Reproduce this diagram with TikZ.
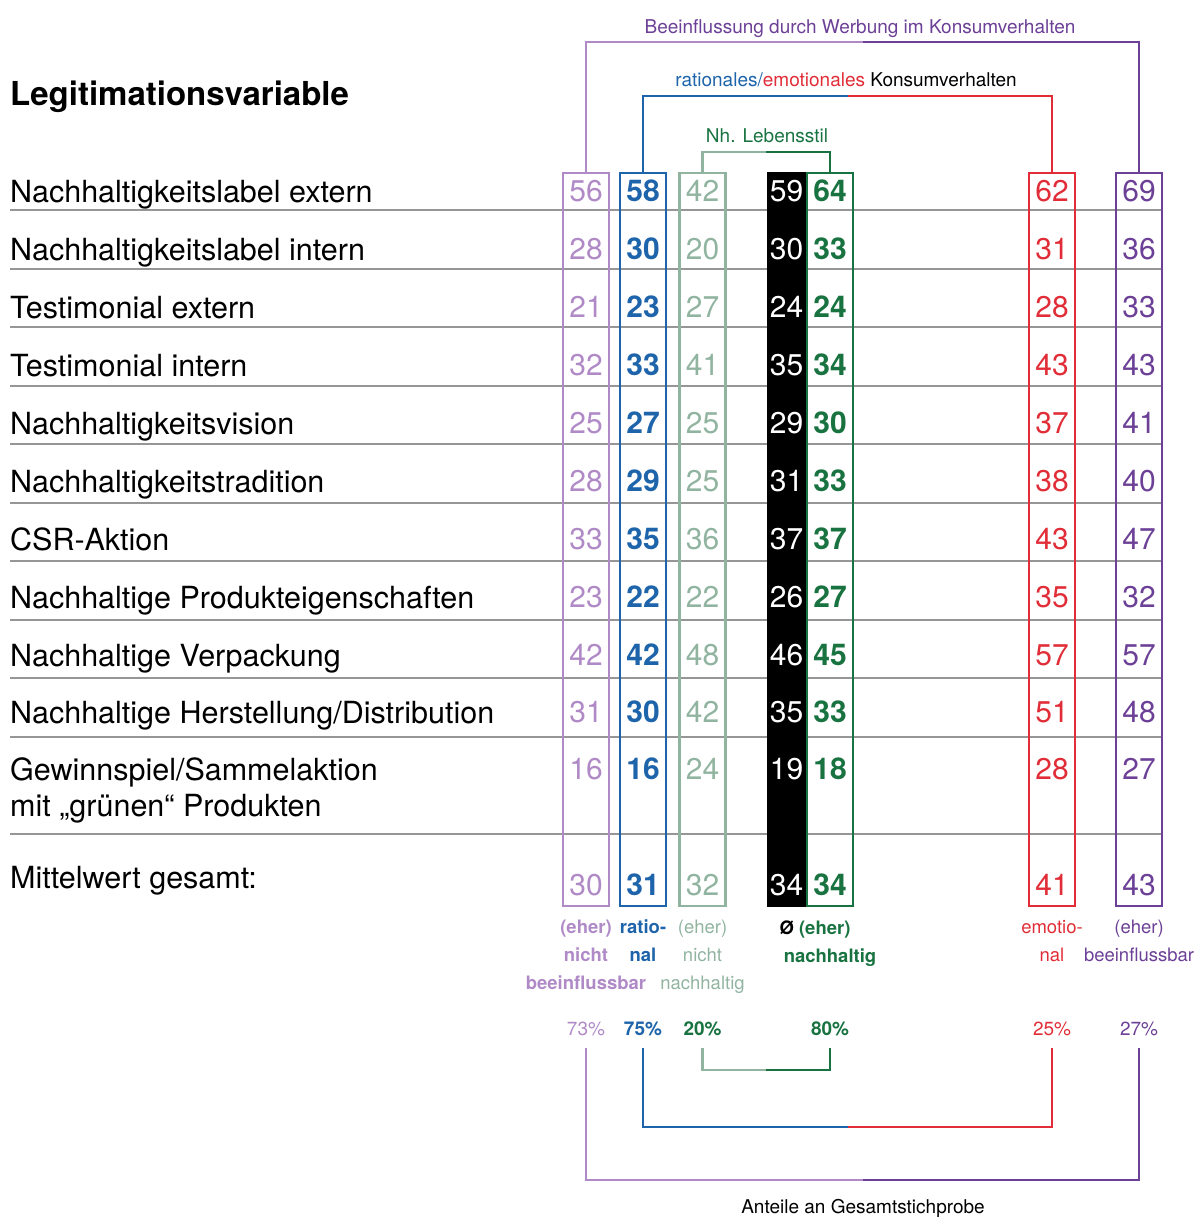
\documentclass[tikz,border=0pt]{standalone}
\usepackage{fontspec}
\setmainfont{TeX Gyre Heros}
\usepackage{tikz}
\usetikzlibrary{positioning}
\definecolor{lav}{RGB}{176,138,198}
\definecolor{beein}{RGB}{108,64,150}
\definecolor{ratio}{RGB}{30,100,170}
\definecolor{pale}{RGB}{145,180,160}
\definecolor{nachh}{RGB}{25,115,65}
\definecolor{emot}{RGB}{225,45,55}
\definecolor{rowline}{RGB}{150,150,150}

\begin{document}
\begin{tikzpicture}[x=1pt,y=-1pt,
		colbox/.style={draw=#1,line width=2.4pt,minimum width=46pt,minimum height=732.6pt,inner sep=0pt},
		num/.style={font=\fontsize{30}{30}\selectfont,inner sep=0pt},
		numbold/.style={font=\fontsize{30}{30}\selectfont\bfseries,inner sep=0pt},
		varlbl/.style={anchor=base west,font=\fontsize{30.5}{36}\selectfont,inner sep=0pt,align=left},
		note/.style={anchor=north,font=\fontsize{18.5}{28}\selectfont,inner sep=0pt,align=center},
		notebold/.style={note,font=\fontsize{18.5}{28}\selectfont\bfseries},
		pct/.style={font=\fontsize{19}{19}\selectfont,inner sep=0pt},
		pctbold/.style={font=\fontsize{19}{19}\selectfont\bfseries,inner sep=0pt},
		head/.style={anchor=base,font=\fontsize{19}{19}\selectfont,inner sep=0pt},
		brk/.style={line width=2.4pt}]
			\useasboundingbox (0,0) rectangle (1202,1217);
			% title
			\node[anchor=base west,font=\fontsize{33}{33}\selectfont\bfseries,inner sep=0pt] (title) at (10,106) {Legitimationsvariable};
			% row rules
			\foreach \ry in {210,269,327,386,444,503,561,620,678,737,834}
				\draw[rowline,line width=1.6pt] (10,\ry) -- (1162,\ry);
			% variable labels
			\node[varlbl] (v1) at (10,202) {Nachhaltigkeitslabel extern};
			\node[varlbl] (v2) at (10,260) {Nachhaltigkeitslabel intern};
			\node[varlbl] (v3) at (10,318) {Testimonial extern};
			\node[varlbl] (v4) at (10,376) {Testimonial intern};
			\node[varlbl] (v5) at (10,434) {Nachhaltigkeitsvision};
			\node[varlbl] (v6) at (10,492) {Nachhaltigkeitstradition};
			\node[varlbl] (v7) at (10,550) {CSR-Aktion};
			\node[varlbl] (v8) at (10,608) {Nachhaltige Produkteigenschaften};
			\node[varlbl] (v9) at (10,666) {Nachhaltige Verpackung};
			\node[varlbl] (v10) at (10,723) {Nachhaltige Herstellung/Distribution};
			\node[varlbl] (v11) at (10,816) {Gewinnspiel/Sammelaktion\\mit „grünen“ Produkten};
			\node[varlbl] (vmean) at (10,888) {Mittelwert gesamt:};
			% columns
			\node[fill=black,minimum width=40pt,minimum height=735pt,inner sep=0pt] (box-avg) at (786.5,539.5) {};
			\node[colbox=lav] (box-nb) at (586,539.5) {};
			\node[colbox=ratio] (box-rat) at (643,539.5) {};
			\node[colbox=pale] (box-nn) at (702.5,539.5) {};
			\node[colbox=nachh] (box-nh) at (830,539.5) {};
			\node[colbox=emot] (box-emo) at (1052,539.5) {};
			\node[colbox=beein] (box-bf) at (1139,539.5) {};
			% values
			\foreach \yy/\xnb/\xrat/\xnn/\xavg/\xnh/\xemo/\xbf [count=\i] in {191/56/58/42/59/64/62/69,249/28/30/20/30/33/31/36,307/21/23/27/24/24/28/33,365/32/33/41/35/34/43/43,423/25/27/25/29/30/37/41,481/28/29/25/31/33/38/40,539/33/35/36/37/37/43/47,597/23/22/22/26/27/35/32,655/42/42/48/46/45/57/57,712/31/30/42/35/33/51/48,769/16/16/24/19/18/28/27,885/30/31/32/34/34/41/43}{
				\node[num,lav] (nb-\i) at (586,\yy) {\xnb};
				\node[numbold,ratio] (rat-\i) at (643,\yy) {\xrat};
				\node[num,pale] (nn-\i) at (702.5,\yy) {\xnn};
				\node[num,white] (avg-\i) at (786.5,\yy) {\xavg};
				\node[numbold,nachh] (nh-\i) at (830,\yy) {\xnh};
				\node[num,emot] (emo-\i) at (1052,\yy) {\xemo};
				\node[num,beein] (bf-\i) at (1139,\yy) {\xbf};
			}
			% top brackets
			\coordinate (bfmid) at (863,42);
			\draw[brk,lav] (box-nb.north) |- (bfmid);
			\draw[brk,beein] (box-bf.north) |- (bfmid);
			\node[head,beein] (bf-head) at (860,34) {Beeinflussung durch Werbung im Konsumverhalten};
			\coordinate (remid) at (848,96);
			\draw[brk,ratio] (box-rat.north) |- (remid);
			\draw[brk,emot] (box-emo.north) |- (remid);
			\node[head] (re-head) at (846,87) {\textcolor{ratio}{rationales/}\textcolor{emot}{emotionales} Konsumverhalten};
			\coordinate (lsmid) at (766,152);
			\draw[brk,pale] (box-nn.north) |- (lsmid);
			\draw[brk,nachh] (box-nh.north) |- (lsmid);
			\node[head,nachh] (ls-head) at (767,143) {Nh. Lebensstil};
			% column notes
			\node[notebold,lav,below=13pt of box-nb] (lbl-nb) {(eher)\\nicht\\beeinflussbar};
			\node[notebold,ratio,below=13pt of box-rat] (lbl-rat) {ratio-\\nal};
			\node[note,pale,below=13pt of box-nn] (lbl-nn) {(eher)\\nicht\\nachhaltig};
			\node[notebold,nachh] (lbl-avg) at (815,921) {\textcolor{black}{Ø} (eher)};
			\node[notebold,nachh] (lbl-nh) at (830,949) {nachhaltig};
			\node[note,emot,below=13pt of box-emo] (lbl-emo) {emotio-\\nal};
			\node[note,beein,below=13pt of box-bf] (lbl-bf) {(eher)\\beeinflussbar};
			% shares
			\node[pct,lav] (pct-nb) at (586,1029) {73\%};
			\node[pctbold,ratio] (pct-rat) at (643,1029) {75\%};
			\node[pctbold,nachh] (pct-nn) at (702.5,1029) {20\%};
			\node[pctbold,nachh] (pct-nh) at (830,1029) {80\%};
			\node[pct,emot] (pct-emo) at (1052,1029) {25\%};
			\node[pct,beein] (pct-bf) at (1139,1029) {27\%};
			% bottom brackets
			\coordinate (lsbot) at (766,1070);
			\draw[brk,pale,shorten <=12pt] (pct-nn.south) |- (lsbot);
			\draw[brk,nachh,shorten <=12pt] (pct-nh.south) |- (lsbot);
			\coordinate (rebot) at (848,1127);
			\draw[brk,ratio,shorten <=12pt] (pct-rat.south) |- (rebot);
			\draw[brk,emot,shorten <=12pt] (pct-emo.south) |- (rebot);
			\coordinate (bfbot) at (863,1180);
			\draw[brk,lav,shorten <=12pt] (pct-nb.south) |- (bfbot);
			\draw[brk,beein,shorten <=12pt] (pct-bf.south) |- (bfbot);
			\node[head] (sample) at (863,1213) {Anteile an Gesamtstichprobe};
		\end{tikzpicture}
\end{document}
